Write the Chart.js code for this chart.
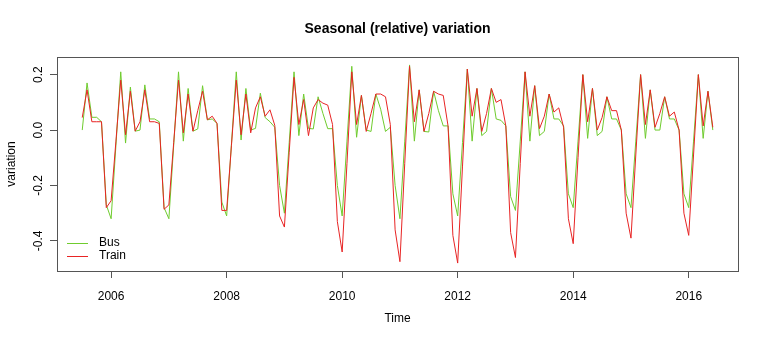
<!DOCTYPE html>
<html>
<head>
<meta charset="utf-8">
<script src="https://cdn.jsdelivr.net/npm/chart.js@4.4.1/dist/chart.umd.min.js"></script>
<style>
  html, body { margin: 0; padding: 0; background: #fff; }
</style>
</head>
<body>
<canvas id="seasonalChart" width="768" height="342"></canvas>
<script>
// monthly series, Jul 2005 .. Jun 2016
const startYear = 2005;
const startMonth = 7;

const busVariation = [
  0.0, 0.17, 0.046, 0.046, 0.03, -0.27,
  -0.32, -0.055, 0.21, -0.047, 0.155, -0.004, 0.0, 0.163, 0.04, 0.04, 0.03, -0.28,
  -0.32, -0.055, 0.21, -0.04, 0.15, -0.004, 0.004, 0.16, 0.037, 0.04, 0.024, -0.26,
  -0.31, -0.05, 0.21, -0.036, 0.15, 0.0, 0.006, 0.133, 0.045, 0.03, 0.01, -0.2,
  -0.30, -0.045, 0.21, -0.02, 0.13, 0.006, 0.004, 0.12, 0.06, 0.005, 0.005, -0.2,
  -0.31, -0.04, 0.23, -0.026, 0.125, 0.0, -0.005, 0.13, 0.075, -0.005, 0.01, -0.2,
  -0.32, -0.04, 0.235, -0.04, 0.145, -0.005, -0.007, 0.14, 0.07, 0.015, 0.015, -0.23,
  -0.31, -0.045, 0.22, -0.04, 0.15, -0.02, -0.005, 0.15, 0.04, 0.035, 0.015, -0.24,
  -0.29, -0.04, 0.21, -0.04, 0.16, -0.02, -0.005, 0.13, 0.04, 0.04, 0.015, -0.23,
  -0.28, -0.04, 0.2, -0.03, 0.15, -0.02, -0.005, 0.12, 0.04, 0.04, 0.0, -0.23,
  -0.28, -0.04, 0.2, -0.03, 0.145, 0.0, 0.0, 0.12, 0.04, 0.04, 0.0, -0.23,
  -0.28, -0.04, 0.2, -0.03, 0.14, 0.0
];

const trainVariation = [
  0.045, 0.145, 0.03, 0.03, 0.03, -0.28,
  -0.255, -0.04, 0.18, -0.017, 0.14, -0.004, 0.03, 0.145, 0.03, 0.03, 0.024, -0.286,
  -0.27, -0.045, 0.18, -0.01, 0.13, -0.004, 0.07, 0.14, 0.037, 0.05, 0.024, -0.29,
  -0.29, -0.055, 0.18, -0.017, 0.13, -0.01, 0.08, 0.12, 0.05, 0.073, 0.017, -0.31,
  -0.35, -0.08, 0.19, 0.02, 0.11, -0.02, 0.08, 0.11, 0.097, 0.09, 0.02, -0.33,
  -0.44, -0.12, 0.21, 0.02, 0.125, -0.005, 0.06, 0.13, 0.13, 0.12, 0.02, -0.36,
  -0.475, -0.12, 0.23, 0.03, 0.145, -0.005, 0.06, 0.14, 0.13, 0.125, 0.015, -0.38,
  -0.48, -0.13, 0.22, 0.05, 0.15, -0.005, 0.06, 0.15, 0.1, 0.11, 0.015, -0.37,
  -0.46, -0.12, 0.21, 0.05, 0.16, 0.005, 0.05, 0.13, 0.065, 0.08, 0.01, -0.32,
  -0.41, -0.1, 0.2, 0.03, 0.15, 0.0, 0.045, 0.12, 0.07, 0.07, 0.0, -0.3,
  -0.39, -0.09, 0.2, 0.02, 0.145, 0.01, 0.06, 0.12, 0.05, 0.065, 0.0, -0.3,
  -0.38, -0.09, 0.2, 0.015, 0.14, 0.01
];

const seriesNames = ['Bus', 'Train'];
const seriesColors = ['#6FCC2E', '#E82424'];
const xTickYears = [2006, 2008, 2010, 2012, 2014, 2016];
const yTickValues = [-0.4, -0.2, 0.0, 0.2];

const FONT = '"Liberation Sans", Arial, sans-serif';

function toPoints(values) {
  return values.map((v, i) => ({ x: startYear + (startMonth - 1 + i) / 12, y: v }));
}

// R style frame, rotated y labels, titles and legend
const baseGraphics = {
  id: 'baseGraphics',
  beforeDraw(chart) {
    const ctx = chart.ctx;
    ctx.save();
    ctx.fillStyle = '#fff';
    ctx.fillRect(0, 0, chart.width, chart.height);
    ctx.restore();
  },
  afterDraw(chart) {
    const ctx = chart.ctx;
    const area = chart.chartArea;
    const yScale = chart.scales.y;
    const midX = (area.left + area.right) / 2;
    ctx.save();

    ctx.strokeStyle = '#555';
    ctx.lineWidth = 1;
    ctx.strokeRect(Math.round(area.left) + 0.5, Math.round(area.top) + 0.5,
      Math.round(area.right - area.left), Math.round(area.bottom - area.top));

    ctx.fillStyle = '#000';
    ctx.textAlign = 'center';
    ctx.textBaseline = 'middle';

    ctx.font = 'bold 14px ' + FONT;
    ctx.fillText('Seasonal (relative) variation', midX, 29);

    ctx.font = '12px ' + FONT;
    ctx.fillText('Time', midX, 319);

    yTickValues.forEach(v => {
      const py = yScale.getPixelForValue(v);
      ctx.save();
      ctx.translate(39, py);
      ctx.rotate(-Math.PI / 2);
      ctx.fillText(v.toFixed(1), 0, 0);
      ctx.restore();
    });

    ctx.save();
    ctx.translate(12, (area.top + area.bottom) / 2);
    ctx.rotate(-Math.PI / 2);
    ctx.fillText('variation', 0, 0);
    ctx.restore();

    // legend, bottom left inside the box
    ctx.textAlign = 'left';
    seriesNames.forEach((name, i) => {
      const ly = 243 + i * 13;
      ctx.strokeStyle = seriesColors[i];
      ctx.beginPath();
      ctx.moveTo(67, ly + 0.5);
      ctx.lineTo(88, ly + 0.5);
      ctx.stroke();
      ctx.fillText(name, 99, ly);
    });

    ctx.restore();
  }
};

new Chart(document.getElementById('seasonalChart'), {
  type: 'line',
  data: {
    datasets: [
      {
        label: seriesNames[0],
        data: toPoints(busVariation),
        borderColor: seriesColors[0],
        borderWidth: 1,
        pointRadius: 0,
        tension: 0,
        order: 2
      },
      {
        label: seriesNames[1],
        data: toPoints(trainVariation),
        borderColor: seriesColors[1],
        borderWidth: 1,
        pointRadius: 0,
        tension: 0,
        order: 1
      }
    ]
  },
  options: {
    responsive: false,
    animation: false,
    devicePixelRatio: 1,
    layout: { padding: { top: 57, right: 30, left: 0, bottom: 0 } },
    plugins: {
      legend: { display: false },
      title: { display: false },
      tooltip: { enabled: false }
    },
    scales: {
      x: {
        type: 'linear',
        min: 2005.063,
        max: 2016.853,
        afterBuildTicks: s => { s.ticks = xTickYears.map(v => ({ value: v })); },
        afterFit: s => { s.height = 71; },
        ticks: {
          color: '#000',
          font: { size: 12, family: FONT },
          padding: 11,
          maxRotation: 0,
          autoSkip: false,
          callback: v => String(v)
        },
        grid: { drawOnChartArea: false, drawTicks: true, tickLength: 7, color: '#555' },
        border: { display: false }
      },
      y: {
        min: -0.5086,
        max: 0.2636,
        afterBuildTicks: s => { s.ticks = yTickValues.map(v => ({ value: v })); },
        afterFit: s => { s.width = 57; },
        ticks: { display: false },
        grid: { drawOnChartArea: false, drawTicks: true, tickLength: 7, color: '#555' },
        border: { display: false }
      }
    }
  },
  plugins: [baseGraphics]
});
</script>
</body>
</html>
